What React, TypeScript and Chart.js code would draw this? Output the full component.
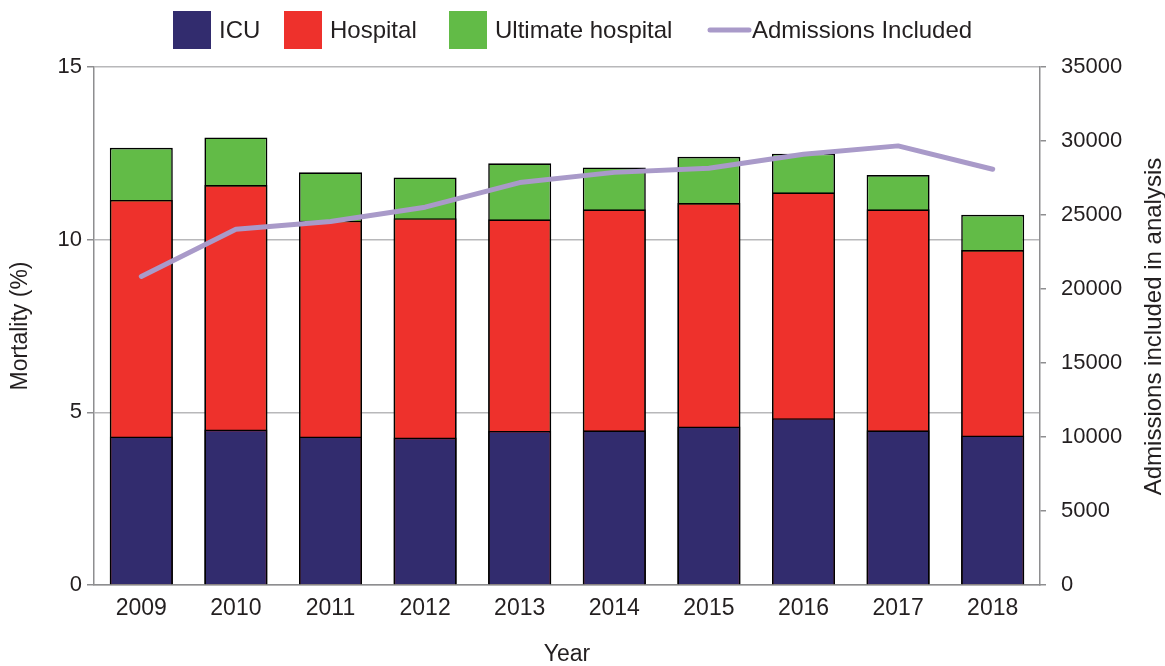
import React, { useEffect, useRef } from "react";
import { Chart, registerables } from "chart.js";

Chart.register(...registerables);

// ---- data ----
const years = ["2009", "2010", "2011", "2012", "2013", "2014", "2015", "2016", "2017", "2018"];
const icuMortality = [4.30, 4.50, 4.30, 4.27, 4.46, 4.48, 4.59, 4.83, 4.48, 4.33];
const hospitalMortality = [11.15, 11.58, 10.55, 10.62, 10.59, 10.88, 11.06, 11.37, 10.88, 9.70];
const ultimateHospitalMortality = [12.66, 12.96, 11.95, 11.80, 12.21, 12.09, 12.40, 12.49, 11.87, 10.72];
const admissionsIncluded = [20850, 24040, 24560, 25530, 27190, 27880, 28160, 29100, 29670, 28090];

const seriesLabels = ["ICU", "Hospital", "Ultimate hospital", "Admissions Included"];
const mortalityRange = [0, 15];
const mortalityStep = 5;
const admissionsRange = [0, 35000];
const admissionsStep = 5000;

const leftTitle = "Mortality (%)";
const rightTitle = "Admissions included in analysis";
const bottomTitle = "Year";

// ---- styles ----
const FONT = "'Liberation Sans', Arial, Helvetica, sans-serif";
const TEXT = "#231f20";
const AXIS = "#8e8e90";
const GRID = "#b8b8ba";
const C_ICU = "#322c6e";
const C_HOSP = "#ee312c";
const C_ULT = "#62bb47";
const C_LINE = "#a99ac9";

const overlayPlugin = {
  id: "overlay",
  afterDraw(chart: any) {
    const ctx = chart.ctx;
    const ds = chart.data.datasets;
    ctx.save();
    // legend
    const starts = [173, 284, 449, 708];
    const cy = 30;
    ctx.font = `24px ${FONT}`;
    ctx.textBaseline = "middle";
    ctx.textAlign = "left";
    ds.forEach((d: any, i: number) => {
      const x = starts[i];
      if (d.type === "line") {
        ctx.strokeStyle = d.borderColor;
        ctx.lineWidth = 5;
        ctx.lineCap = "round";
        ctx.beginPath();
        ctx.moveTo(x + 2, cy);
        ctx.lineTo(x + 41, cy);
        ctx.stroke();
        ctx.fillStyle = TEXT;
        ctx.fillText(d.label, x + 44, cy + 1);
      } else {
        ctx.fillStyle = d.backgroundColor;
        ctx.fillRect(x, cy - 19, 38, 38);
        ctx.fillStyle = TEXT;
        ctx.fillText(d.label, x + 46, cy + 1);
      }
    });
    // right axis title (reads bottom-to-top)
    const area = chart.chartArea;
    ctx.translate(1154, (area.top + area.bottom) / 2 + 0.5);
    ctx.rotate(-Math.PI / 2);
    ctx.font = `24px ${FONT}`;
    ctx.textAlign = "center";
    ctx.textBaseline = "middle";
    ctx.fillStyle = TEXT;
    ctx.fillText(rightTitle, 0, 0);
    ctx.restore();
  },
};

export default function App() {
  const ref = useRef<HTMLCanvasElement | null>(null);

  useEffect(() => {
    if (!ref.current) return;
    const barCommon = {
      borderColor: "#000000",
      borderWidth: 1.6,
      yAxisID: "y",
      barPercentage: 0.666,
      categoryPercentage: 1,
    };
    const chart = new Chart(ref.current, {
      type: "bar",
      data: {
        labels: years,
        datasets: [
          { type: "bar", label: seriesLabels[0], data: icuMortality, backgroundColor: C_ICU, order: 1, ...barCommon },
          { type: "bar", label: seriesLabels[1], data: hospitalMortality, backgroundColor: C_HOSP, order: 2, ...barCommon },
          { type: "bar", label: seriesLabels[2], data: ultimateHospitalMortality, backgroundColor: C_ULT, order: 3, ...barCommon },
          {
            type: "line",
            label: seriesLabels[3],
            data: admissionsIncluded,
            borderColor: C_LINE,
            backgroundColor: C_LINE,
            borderWidth: 5,
            borderCapStyle: "round",
            borderJoinStyle: "round",
            pointRadius: 0,
            tension: 0,
            yAxisID: "y1",
            order: 0,
          },
        ] as any,
      },
      options: {
        animation: false,
        responsive: true,
        maintainAspectRatio: false,
        layout: { padding: { top: 67, left: 0, right: 0, bottom: 0 } },
        plugins: {
          legend: { display: false },
          tooltip: { enabled: false },
        },
        scales: {
          x: {
            stacked: true,
            offset: true,
            grid: { display: false, drawTicks: false },
            border: { display: true, color: AXIS, width: 1.5 },
            ticks: { color: TEXT, font: { family: FONT, size: 23 }, padding: 10, maxRotation: 0 },
            title: {
              display: true,
              text: bottomTitle,
              color: TEXT,
              font: { family: FONT, size: 23, lineHeight: 1 },
              padding: { top: 0, bottom: 0 },
            },
            afterFit: (s: any) => {
              s.height = 81;
            },
          },
          y: {
            type: "linear",
            position: "left",
            stacked: false,
            min: mortalityRange[0],
            max: mortalityRange[1],
            grid: { color: GRID, lineWidth: 1.5, tickLength: 7, tickColor: AXIS, drawTicks: true },
            border: { display: true, color: AXIS, width: 1.5 },
            ticks: { stepSize: mortalityStep, color: TEXT, font: { family: FONT, size: 22 }, padding: 5 },
            title: {
              display: true,
              text: leftTitle,
              color: TEXT,
              font: { family: FONT, size: 23, lineHeight: 1.2 },
              padding: { top: 7, bottom: 0 },
            },
            afterFit: (s: any) => {
              s.width = 94;
            },
          },
          y1: {
            type: "linear",
            position: "right",
            min: admissionsRange[0],
            max: admissionsRange[1],
            grid: { drawOnChartArea: false, color: AXIS, lineWidth: 1.5, tickLength: 6, drawTicks: true },
            border: { display: true, color: AXIS, width: 1.5 },
            ticks: {
              stepSize: admissionsStep,
              color: TEXT,
              font: { family: FONT, size: 22 },
              padding: 15,
              callback: (v: any) => String(v),
            },
            afterFit: (s: any) => {
              s.width = 125;
            },
          },
        },
      } as any,
      plugins: [overlayPlugin],
    });
    return () => chart.destroy();
  }, []);

  return (
    <div style={{ position: "fixed", left: 0, top: 0, width: 1165, height: 666, background: "#ffffff" }}>
      <canvas ref={ref} />
    </div>
  );
}
